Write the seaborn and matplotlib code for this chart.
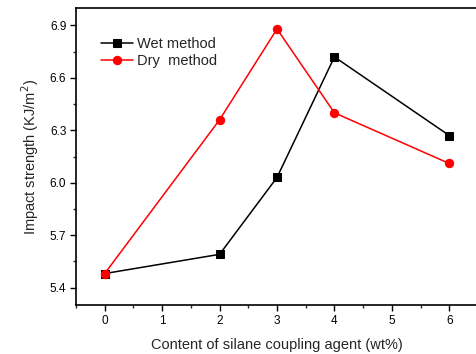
import matplotlib
matplotlib.use("Agg")
import matplotlib.pyplot as plt
from matplotlib.ticker import MultipleLocator
import pandas as pd
import seaborn as sns

# Silane content (wt%) and impact strength (KJ/m^2)
content = [0, 2, 3, 4, 6]
wet_method = [5.48, 5.59, 6.03, 6.72, 6.27]
dry_method = [5.48, 6.36, 6.88, 6.40, 6.11]

sns.set_theme(style="ticks")
plt.rcParams["font.family"] = ["Liberation Sans", "DejaVu Sans"]

fig = plt.figure(figsize=(4.76, 3.54), dpi=100)
# axes box: left 76px, top 8px, bottom 305px, right edge just past the canvas
ax = fig.add_axes([76 / 476, 1 - 305 / 354, (478 - 76) / 476, (305 - 8) / 354])

wet_df = pd.DataFrame({"content": content, "strength": wet_method})
dry_df = pd.DataFrame({"content": content, "strength": dry_method})

sns.lineplot(data=wet_df, x="content", y="strength", ax=ax, color="black",
             marker="s", markersize=5.2, markeredgecolor="black", linewidth=1.1,
             label="Wet method")
sns.lineplot(data=dry_df, x="content", y="strength", ax=ax, color="#ff0000",
             marker="o", markersize=6, markeredgecolor="#ff0000", linewidth=1.1,
             label="Dry  method")

ax.set_xlim(-0.5, 6.5)
ax.set_ylim(5.3, 7.0)
ax.xaxis.set_major_locator(MultipleLocator(1))
ax.xaxis.set_minor_locator(MultipleLocator(0.5))
ax.yaxis.set_major_locator(MultipleLocator(0.3))
ax.yaxis.set_minor_locator(MultipleLocator(0.15))
ax.set_yticks([5.4, 5.7, 6.0, 6.3, 6.6, 6.9])

ax.tick_params(axis="both", which="major", direction="out", length=4,
               width=1, labelsize=8.5, colors="black", pad=3)
ax.tick_params(axis="both", which="minor", direction="out", length=2.5, width=1)

for sp in ax.spines.values():
    sp.set_color("black")
    sp.set_linewidth(1.2)

ax.set_xlabel("Content of silane coupling agent (wt%)", fontsize=10.5, labelpad=8)
ax.set_ylabel("Impact strength (KJ/m$^2$)", fontsize=10.5, labelpad=6)

leg = ax.legend(loc="upper left", bbox_to_anchor=(0.047, 0.923), frameon=False,
                fontsize=10.5, handlelength=2.2, handletextpad=0.3,
                labelspacing=0.2, borderaxespad=0)

fig.savefig("out.png", dpi=100)
